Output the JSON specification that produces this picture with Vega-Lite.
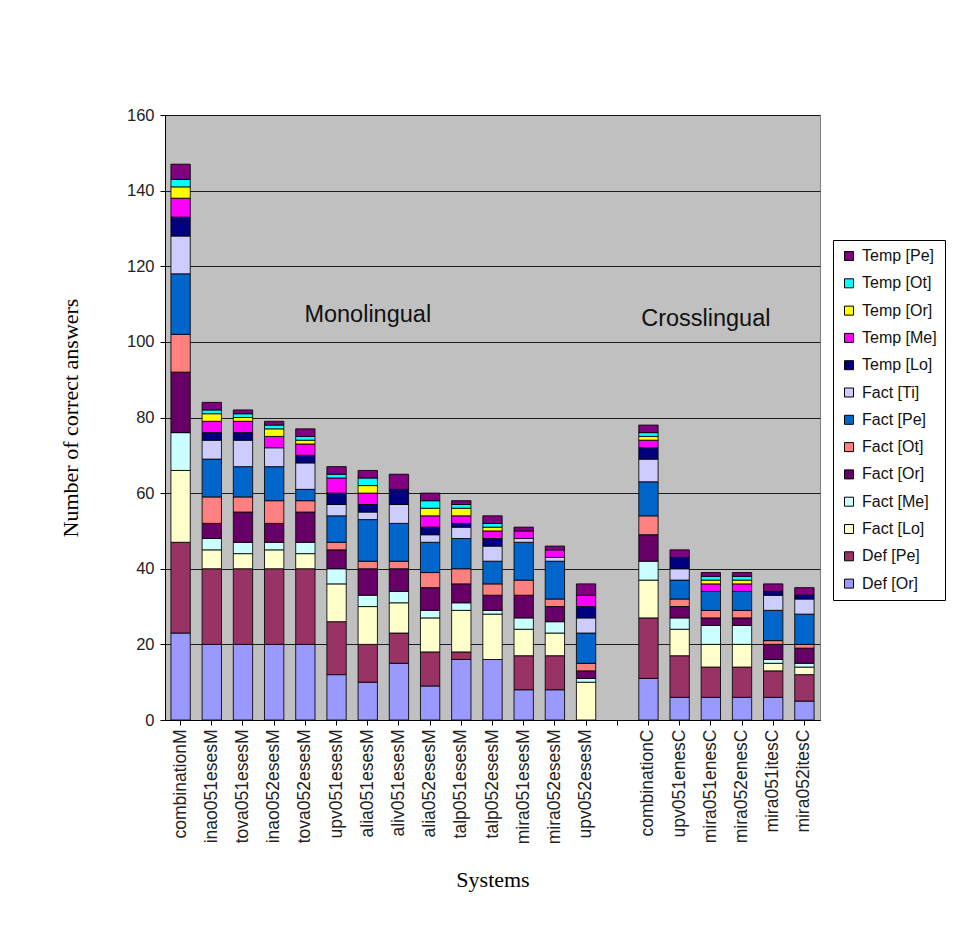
{
  "$schema": "https://vega.github.io/schema/vega-lite/v6.json",
  "width": 655,
  "height": 605,
  "autosize": {"type": "none"},
  "padding": {"left": 165, "top": 115, "right": 133, "bottom": 216},
  "background": "white",
  "config": {
    "view": {"fill": "#C0C0C0", "stroke": "#808080", "strokeWidth": 1},
    "font": "Liberation Sans"
  },
  "datasets": {
    "answers": [
      {"s":"combinationM","c":"Def [Or]","n":23},{"s":"combinationM","c":"Def [Pe]","n":24},{"s":"combinationM","c":"Fact [Lo]","n":19},{"s":"combinationM","c":"Fact [Me]","n":10},{"s":"combinationM","c":"Fact [Or]","n":16},{"s":"combinationM","c":"Fact [Ot]","n":10},{"s":"combinationM","c":"Fact [Pe]","n":16},{"s":"combinationM","c":"Fact [Ti]","n":10},{"s":"combinationM","c":"Temp [Lo]","n":5},{"s":"combinationM","c":"Temp [Me]","n":5},{"s":"combinationM","c":"Temp [Or]","n":3},{"s":"combinationM","c":"Temp [Ot]","n":2},{"s":"combinationM","c":"Temp [Pe]","n":4},
      {"s":"inao051esesM","c":"Def [Or]","n":20},{"s":"inao051esesM","c":"Def [Pe]","n":20},{"s":"inao051esesM","c":"Fact [Lo]","n":5},{"s":"inao051esesM","c":"Fact [Me]","n":3},{"s":"inao051esesM","c":"Fact [Or]","n":4},{"s":"inao051esesM","c":"Fact [Ot]","n":7},{"s":"inao051esesM","c":"Fact [Pe]","n":10},{"s":"inao051esesM","c":"Fact [Ti]","n":5},{"s":"inao051esesM","c":"Temp [Lo]","n":2},{"s":"inao051esesM","c":"Temp [Me]","n":3},{"s":"inao051esesM","c":"Temp [Or]","n":2},{"s":"inao051esesM","c":"Temp [Ot]","n":1},{"s":"inao051esesM","c":"Temp [Pe]","n":2},
      {"s":"tova051esesM","c":"Def [Or]","n":20},{"s":"tova051esesM","c":"Def [Pe]","n":20},{"s":"tova051esesM","c":"Fact [Lo]","n":4},{"s":"tova051esesM","c":"Fact [Me]","n":3},{"s":"tova051esesM","c":"Fact [Or]","n":8},{"s":"tova051esesM","c":"Fact [Ot]","n":4},{"s":"tova051esesM","c":"Fact [Pe]","n":8},{"s":"tova051esesM","c":"Fact [Ti]","n":7},{"s":"tova051esesM","c":"Temp [Lo]","n":2},{"s":"tova051esesM","c":"Temp [Me]","n":3},{"s":"tova051esesM","c":"Temp [Or]","n":1},{"s":"tova051esesM","c":"Temp [Ot]","n":1},{"s":"tova051esesM","c":"Temp [Pe]","n":1},
      {"s":"inao052esesM","c":"Def [Or]","n":20},{"s":"inao052esesM","c":"Def [Pe]","n":20},{"s":"inao052esesM","c":"Fact [Lo]","n":5},{"s":"inao052esesM","c":"Fact [Me]","n":2},{"s":"inao052esesM","c":"Fact [Or]","n":5},{"s":"inao052esesM","c":"Fact [Ot]","n":6},{"s":"inao052esesM","c":"Fact [Pe]","n":9},{"s":"inao052esesM","c":"Fact [Ti]","n":5},{"s":"inao052esesM","c":"Temp [Me]","n":3},{"s":"inao052esesM","c":"Temp [Or]","n":2},{"s":"inao052esesM","c":"Temp [Ot]","n":1},{"s":"inao052esesM","c":"Temp [Pe]","n":1},
      {"s":"tova052esesM","c":"Def [Or]","n":20},{"s":"tova052esesM","c":"Def [Pe]","n":20},{"s":"tova052esesM","c":"Fact [Lo]","n":4},{"s":"tova052esesM","c":"Fact [Me]","n":3},{"s":"tova052esesM","c":"Fact [Or]","n":8},{"s":"tova052esesM","c":"Fact [Ot]","n":3},{"s":"tova052esesM","c":"Fact [Pe]","n":3},{"s":"tova052esesM","c":"Fact [Ti]","n":7},{"s":"tova052esesM","c":"Temp [Lo]","n":2},{"s":"tova052esesM","c":"Temp [Me]","n":3},{"s":"tova052esesM","c":"Temp [Or]","n":1},{"s":"tova052esesM","c":"Temp [Ot]","n":1},{"s":"tova052esesM","c":"Temp [Pe]","n":2},
      {"s":"upv051esesM","c":"Def [Or]","n":12},{"s":"upv051esesM","c":"Def [Pe]","n":14},{"s":"upv051esesM","c":"Fact [Lo]","n":10},{"s":"upv051esesM","c":"Fact [Me]","n":4},{"s":"upv051esesM","c":"Fact [Or]","n":5},{"s":"upv051esesM","c":"Fact [Ot]","n":2},{"s":"upv051esesM","c":"Fact [Pe]","n":7},{"s":"upv051esesM","c":"Fact [Ti]","n":3},{"s":"upv051esesM","c":"Temp [Lo]","n":3},{"s":"upv051esesM","c":"Temp [Me]","n":4},{"s":"upv051esesM","c":"Temp [Ot]","n":1},{"s":"upv051esesM","c":"Temp [Pe]","n":2},
      {"s":"alia051esesM","c":"Def [Or]","n":10},{"s":"alia051esesM","c":"Def [Pe]","n":10},{"s":"alia051esesM","c":"Fact [Lo]","n":10},{"s":"alia051esesM","c":"Fact [Me]","n":3},{"s":"alia051esesM","c":"Fact [Or]","n":7},{"s":"alia051esesM","c":"Fact [Ot]","n":2},{"s":"alia051esesM","c":"Fact [Pe]","n":11},{"s":"alia051esesM","c":"Fact [Ti]","n":2},{"s":"alia051esesM","c":"Temp [Lo]","n":2},{"s":"alia051esesM","c":"Temp [Me]","n":3},{"s":"alia051esesM","c":"Temp [Or]","n":2},{"s":"alia051esesM","c":"Temp [Ot]","n":2},{"s":"alia051esesM","c":"Temp [Pe]","n":2},
      {"s":"aliv051esesM","c":"Def [Or]","n":15},{"s":"aliv051esesM","c":"Def [Pe]","n":8},{"s":"aliv051esesM","c":"Fact [Lo]","n":8},{"s":"aliv051esesM","c":"Fact [Me]","n":3},{"s":"aliv051esesM","c":"Fact [Or]","n":6},{"s":"aliv051esesM","c":"Fact [Ot]","n":2},{"s":"aliv051esesM","c":"Fact [Pe]","n":10},{"s":"aliv051esesM","c":"Fact [Ti]","n":5},{"s":"aliv051esesM","c":"Temp [Lo]","n":4},{"s":"aliv051esesM","c":"Temp [Pe]","n":4},
      {"s":"alia052esesM","c":"Def [Or]","n":9},{"s":"alia052esesM","c":"Def [Pe]","n":9},{"s":"alia052esesM","c":"Fact [Lo]","n":9},{"s":"alia052esesM","c":"Fact [Me]","n":2},{"s":"alia052esesM","c":"Fact [Or]","n":6},{"s":"alia052esesM","c":"Fact [Ot]","n":4},{"s":"alia052esesM","c":"Fact [Pe]","n":8},{"s":"alia052esesM","c":"Fact [Ti]","n":2},{"s":"alia052esesM","c":"Temp [Lo]","n":2},{"s":"alia052esesM","c":"Temp [Me]","n":3},{"s":"alia052esesM","c":"Temp [Or]","n":2},{"s":"alia052esesM","c":"Temp [Ot]","n":2},{"s":"alia052esesM","c":"Temp [Pe]","n":2},
      {"s":"talp051esesM","c":"Def [Or]","n":16},{"s":"talp051esesM","c":"Def [Pe]","n":2},{"s":"talp051esesM","c":"Fact [Lo]","n":11},{"s":"talp051esesM","c":"Fact [Me]","n":2},{"s":"talp051esesM","c":"Fact [Or]","n":5},{"s":"talp051esesM","c":"Fact [Ot]","n":4},{"s":"talp051esesM","c":"Fact [Pe]","n":8},{"s":"talp051esesM","c":"Fact [Ti]","n":3},{"s":"talp051esesM","c":"Temp [Lo]","n":1},{"s":"talp051esesM","c":"Temp [Me]","n":2},{"s":"talp051esesM","c":"Temp [Or]","n":2},{"s":"talp051esesM","c":"Temp [Ot]","n":1},{"s":"talp051esesM","c":"Temp [Pe]","n":1},
      {"s":"talp052esesM","c":"Def [Or]","n":16},{"s":"talp052esesM","c":"Fact [Lo]","n":12},{"s":"talp052esesM","c":"Fact [Me]","n":1},{"s":"talp052esesM","c":"Fact [Or]","n":4},{"s":"talp052esesM","c":"Fact [Ot]","n":3},{"s":"talp052esesM","c":"Fact [Pe]","n":6},{"s":"talp052esesM","c":"Fact [Ti]","n":4},{"s":"talp052esesM","c":"Temp [Lo]","n":2},{"s":"talp052esesM","c":"Temp [Me]","n":2},{"s":"talp052esesM","c":"Temp [Or]","n":1},{"s":"talp052esesM","c":"Temp [Ot]","n":1},{"s":"talp052esesM","c":"Temp [Pe]","n":2},
      {"s":"mira051esesM","c":"Def [Or]","n":8},{"s":"mira051esesM","c":"Def [Pe]","n":9},{"s":"mira051esesM","c":"Fact [Lo]","n":7},{"s":"mira051esesM","c":"Fact [Me]","n":3},{"s":"mira051esesM","c":"Fact [Or]","n":6},{"s":"mira051esesM","c":"Fact [Ot]","n":4},{"s":"mira051esesM","c":"Fact [Pe]","n":10},{"s":"mira051esesM","c":"Fact [Ti]","n":1},{"s":"mira051esesM","c":"Temp [Me]","n":2},{"s":"mira051esesM","c":"Temp [Pe]","n":1},
      {"s":"mira052esesM","c":"Def [Or]","n":8},{"s":"mira052esesM","c":"Def [Pe]","n":9},{"s":"mira052esesM","c":"Fact [Lo]","n":6},{"s":"mira052esesM","c":"Fact [Me]","n":3},{"s":"mira052esesM","c":"Fact [Or]","n":4},{"s":"mira052esesM","c":"Fact [Ot]","n":2},{"s":"mira052esesM","c":"Fact [Pe]","n":10},{"s":"mira052esesM","c":"Fact [Ti]","n":1},{"s":"mira052esesM","c":"Temp [Me]","n":2},{"s":"mira052esesM","c":"Temp [Pe]","n":1},
      {"s":"upv052esesM","c":"Fact [Lo]","n":10},{"s":"upv052esesM","c":"Fact [Me]","n":1},{"s":"upv052esesM","c":"Fact [Or]","n":2},{"s":"upv052esesM","c":"Fact [Ot]","n":2},{"s":"upv052esesM","c":"Fact [Pe]","n":8},{"s":"upv052esesM","c":"Fact [Ti]","n":4},{"s":"upv052esesM","c":"Temp [Lo]","n":3},{"s":"upv052esesM","c":"Temp [Me]","n":3},{"s":"upv052esesM","c":"Temp [Pe]","n":3},
      {"s":"combinationC","c":"Def [Or]","n":11},{"s":"combinationC","c":"Def [Pe]","n":16},{"s":"combinationC","c":"Fact [Lo]","n":10},{"s":"combinationC","c":"Fact [Me]","n":5},{"s":"combinationC","c":"Fact [Or]","n":7},{"s":"combinationC","c":"Fact [Ot]","n":5},{"s":"combinationC","c":"Fact [Pe]","n":9},{"s":"combinationC","c":"Fact [Ti]","n":6},{"s":"combinationC","c":"Temp [Lo]","n":3},{"s":"combinationC","c":"Temp [Me]","n":2},{"s":"combinationC","c":"Temp [Or]","n":1},{"s":"combinationC","c":"Temp [Ot]","n":1},{"s":"combinationC","c":"Temp [Pe]","n":2},
      {"s":"upv051enesC","c":"Def [Or]","n":6},{"s":"upv051enesC","c":"Def [Pe]","n":11},{"s":"upv051enesC","c":"Fact [Lo]","n":7},{"s":"upv051enesC","c":"Fact [Me]","n":3},{"s":"upv051enesC","c":"Fact [Or]","n":3},{"s":"upv051enesC","c":"Fact [Ot]","n":2},{"s":"upv051enesC","c":"Fact [Pe]","n":5},{"s":"upv051enesC","c":"Fact [Ti]","n":3},{"s":"upv051enesC","c":"Temp [Lo]","n":3},{"s":"upv051enesC","c":"Temp [Pe]","n":2},
      {"s":"mira051enesC","c":"Def [Or]","n":6},{"s":"mira051enesC","c":"Def [Pe]","n":8},{"s":"mira051enesC","c":"Fact [Lo]","n":6},{"s":"mira051enesC","c":"Fact [Me]","n":5},{"s":"mira051enesC","c":"Fact [Or]","n":2},{"s":"mira051enesC","c":"Fact [Ot]","n":2},{"s":"mira051enesC","c":"Fact [Pe]","n":5},{"s":"mira051enesC","c":"Temp [Me]","n":2},{"s":"mira051enesC","c":"Temp [Or]","n":1},{"s":"mira051enesC","c":"Temp [Ot]","n":1},{"s":"mira051enesC","c":"Temp [Pe]","n":1},
      {"s":"mira052enesC","c":"Def [Or]","n":6},{"s":"mira052enesC","c":"Def [Pe]","n":8},{"s":"mira052enesC","c":"Fact [Lo]","n":6},{"s":"mira052enesC","c":"Fact [Me]","n":5},{"s":"mira052enesC","c":"Fact [Or]","n":2},{"s":"mira052enesC","c":"Fact [Ot]","n":2},{"s":"mira052enesC","c":"Fact [Pe]","n":5},{"s":"mira052enesC","c":"Temp [Me]","n":2},{"s":"mira052enesC","c":"Temp [Or]","n":1},{"s":"mira052enesC","c":"Temp [Ot]","n":1},{"s":"mira052enesC","c":"Temp [Pe]","n":1},
      {"s":"mira051itesC","c":"Def [Or]","n":6},{"s":"mira051itesC","c":"Def [Pe]","n":7},{"s":"mira051itesC","c":"Fact [Lo]","n":2},{"s":"mira051itesC","c":"Fact [Me]","n":1},{"s":"mira051itesC","c":"Fact [Or]","n":4},{"s":"mira051itesC","c":"Fact [Ot]","n":1},{"s":"mira051itesC","c":"Fact [Pe]","n":8},{"s":"mira051itesC","c":"Fact [Ti]","n":4},{"s":"mira051itesC","c":"Temp [Lo]","n":1},{"s":"mira051itesC","c":"Temp [Pe]","n":2},
      {"s":"mira052itesC","c":"Def [Or]","n":5},{"s":"mira052itesC","c":"Def [Pe]","n":7},{"s":"mira052itesC","c":"Fact [Lo]","n":2},{"s":"mira052itesC","c":"Fact [Me]","n":1},{"s":"mira052itesC","c":"Fact [Or]","n":4},{"s":"mira052itesC","c":"Fact [Ot]","n":1},{"s":"mira052itesC","c":"Fact [Pe]","n":8},{"s":"mira052itesC","c":"Fact [Ti]","n":4},{"s":"mira052itesC","c":"Temp [Lo]","n":1},{"s":"mira052itesC","c":"Temp [Pe]","n":2}
    ]
  },
  "layer": [
    {
      "data": {"name": "answers"},
      "mark": {"type": "bar", "stroke": "#000000", "strokeWidth": 1, "strokeOpacity": 0.85},
      "encoding": {
        "x": {
          "field": "s", "type": "nominal",
          "scale": {
            "domain": ["combinationM","inao051esesM","tova051esesM","inao052esesM","tova052esesM","upv051esesM","alia051esesM","aliv051esesM","alia052esesM","talp051esesM","talp052esesM","mira051esesM","mira052esesM","upv052esesM"," ","combinationC","upv051enesC","mira051enesC","mira052enesC","mira051itesC","mira052itesC"],
            "paddingInner": 0.38, "paddingOuter": 0.19
          },
          "axis": {
            "title": "Systems", "titleFont": "Liberation Serif", "titleFontSize": 22, "titleFontWeight": "normal", "titleColor": "#000000", "titlePadding": 26,
            "labelAngle": -90, "labelFont": "Liberation Sans", "labelFontSize": 17.5, "labelColor": "#222222", "labelPadding": 4,
            "domainColor": "#000000", "tickColor": "#000000", "tickSize": 5
          }
        },
        "y": {
          "field": "n", "type": "quantitative", "stack": "zero",
          "scale": {"domain": [0, 160], "nice": false},
          "axis": {
            "title": "Number of correct answers", "titleFont": "Liberation Serif", "titleFontSize": 22, "titleFontWeight": "normal", "titleColor": "#000000", "titlePadding": 44,
            "values": [0,20,40,60,80,100,120,140,160],
            "labelFont": "Liberation Sans", "labelFontSize": 16.5, "labelColor": "#222222", "labelPadding": 6,
            "domainColor": "#000000", "tickColor": "#000000", "tickSize": 5,
            "grid": true, "gridColor": "#000000", "gridWidth": 1, "gridOpacity": 0.85
          }
        },
        "color": {
          "field": "c", "type": "nominal",
          "scale": {
            "domain": ["Temp [Pe]","Temp [Ot]","Temp [Or]","Temp [Me]","Temp [Lo]","Fact [Ti]","Fact [Pe]","Fact [Ot]","Fact [Or]","Fact [Me]","Fact [Lo]","Def [Pe]","Def [Or]"],
            "range": ["#800080","#00FFFF","#FFFF00","#FF00FF","#000080","#CCCCFF","#0066CC","#FF8080","#660066","#CCFFFF","#FFFFCC","#993366","#9999FF"]
          },
          "legend": {
            "title": null, "orient": "none", "legendX": 668, "legendY": 125,
            "fillColor": "#FFFFFF", "strokeColor": "#000000", "padding": 8,
            "symbolType": "square", "symbolSize": 81, "symbolStrokeColor": "#000000", "symbolStrokeWidth": 1, "symbolOpacity": 1,
            "labelFont": "Liberation Sans", "labelFontSize": 16, "labelColor": "#111111", "labelLimit": 200,
            "rowPadding": 11.3, "labelOffset": 5
          }
        },
        "order": {"field": "c", "sort": "ascending"}
      }
    },
    {
      "data": {"values": [{}]},
      "mark": {"type": "text", "font": "Liberation Sans", "fontSize": 23.5, "color": "#111111"},
      "encoding": {"x": {"datum": "alia051esesM"}, "y": {"datum": 107}, "text": {"value": "Monolingual"}}
    },
    {
      "data": {"values": [{}]},
      "mark": {"type": "text", "font": "Liberation Sans", "fontSize": 23.5, "color": "#111111", "dx": -5},
      "encoding": {"x": {"datum": "mira051enesC"}, "y": {"datum": 106}, "text": {"value": "Crosslingual"}}
    }
  ]
}
